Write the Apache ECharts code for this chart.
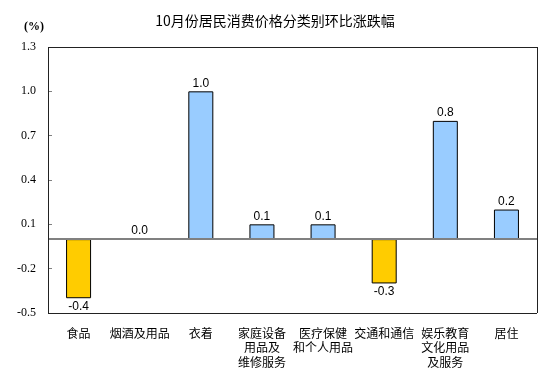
<!DOCTYPE html>
<html><head><meta charset="utf-8">
<script src="https://cdn.jsdelivr.net/npm/echarts@6/dist/echarts.min.js"></script>
<style>html,body{margin:0;padding:0;background:#fff}#c{width:550px;height:377px}</style>
</head><body><div id="c"></div>
<script>
const title = '10月份居民消费价格分类别环比涨跌幅';
const unitLabel = '(%)';
const categories = ['食品', '烟酒及用品', '衣着', '家庭设备\n用品及\n维修服务', '医疗保健\n和个人用品', '交通和通信', '娱乐教育\n文化用品\n及服务', '居住'];
const values = [-0.4, 0.0, 1.0, 0.1, 0.1, -0.3, 0.8, 0.2];
const yMin = -0.5, yMax = 1.3, yStep = 0.3;

const G = {left: 48, right: 13, top: 47, bottom: 64};
const chart = echarts.init(document.getElementById('c'), null, {renderer: 'canvas'});
const items = values.map(v => ({
  value: v,
  itemStyle: {color: v < 0 ? '#FFCC00' : '#99CCFF', borderColor: '#000', borderWidth: 1},
  label: {position: v < 0 ? 'bottom' : 'top'}
}));
const frameStyle = {lineStyle: {color: '#222', width: 1, type: 'solid'}};
chart.setOption({
  animation: false,
  title: [
    {text: title, left: 'center', top: 9, textStyle: {fontFamily: 'Noto Sans CJK SC', fontSize: 14, fontWeight: 'normal', color: '#000'}},
    {text: unitLabel, left: 19, top: 16, textStyle: {fontFamily: 'Liberation Serif', fontSize: 12, fontWeight: 'bold', color: '#000'}}
  ],
  grid: G,
  xAxis: [
    {type: 'category', data: categories,
     axisLine: {show: false}, axisTick: {show: false},
     axisLabel: {interval: 0, margin: 13, fontFamily: 'Noto Sans CJK SC', fontSize: 12, lineHeight: 14.5, color: '#000', verticalAlign: 'top'}},
    {type: 'value', min: 0, max: 1, show: false, position: 'top', splitLine: {show: false}}
  ],
  yAxis: [
    {type: 'value', min: yMin, max: yMax, show: false, splitLine: {show: false}},
    {type: 'value', min: 0, max: +(yMax - yMin).toFixed(1), interval: yStep, position: 'left',
     axisLine: {show: false}, splitLine: {show: false},
     axisTick: {show: true, inside: true, length: 4, lineStyle: {color: '#808080'}},
     axisLabel: {margin: 12, fontFamily: 'Liberation Serif', fontSize: 12, color: '#000',
       formatter: v => (v + yMin).toFixed(1)}}
  ],
  series: [
    {type: 'bar', yAxisIndex: 1, data: [], silent: true},
    {type: 'bar', yAxisIndex: 0, data: items, barWidth: 25, barGap: '-100%',
     label: {show: true, distance: 2, fontFamily: 'Liberation Sans', fontSize: 12, color: '#000', formatter: p => p.value.toFixed(1)},
     markLine: {silent: true, symbol: 'none', label: {show: false},
       lineStyle: {color: '#808080', width: 2, type: 'solid'},
       data: [
         {yAxis: 0},
         Object.assign({yAxis: yMin}, frameStyle),
         Object.assign({yAxis: yMax}, frameStyle)
       ]},
     z: 3},
    {type: 'line', xAxisIndex: 1, yAxisIndex: 0, data: [[0, yMin]], symbol: 'none', silent: true, clip: false,
     lineStyle: {opacity: 0},
     markLine: {silent: true, symbol: 'none', label: {show: false},
       lineStyle: {color: '#222', width: 1, type: 'solid'},
       data: [{xAxis: 0}, {xAxis: 1}]},
     z: 4}
  ]
});
</script></body></html>
